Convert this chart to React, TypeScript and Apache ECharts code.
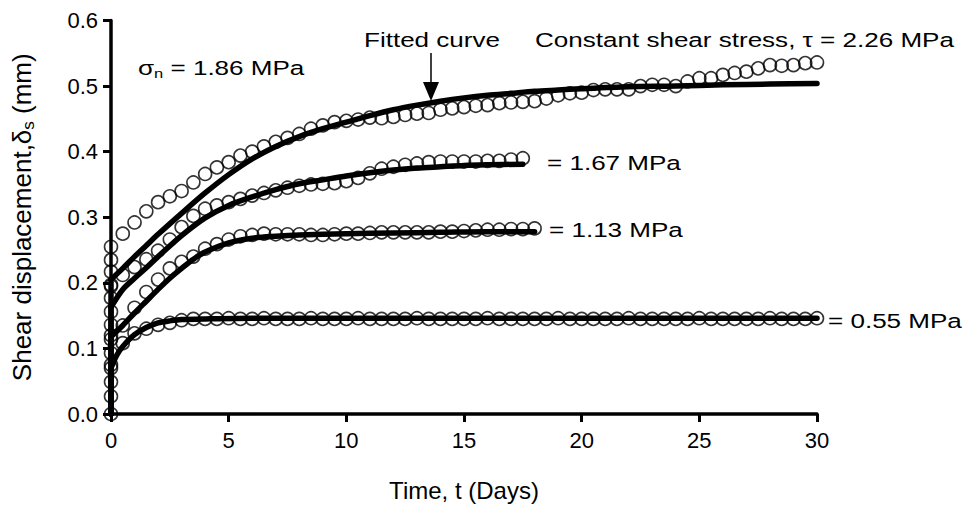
import React, { useEffect, useRef } from "react";
import * as echarts from "echarts";

const FONT = '"Liberation Sans", Arial, Helvetica, sans-serif';

// Sampling times (days) of the measured points
const T_30 = [0, 0.5, 1, 1.5, 2, 2.5, 3, 3.5, 4, 4.5, 5, 5.5, 6, 6.5, 7, 7.5, 8, 8.5, 9, 9.5, 10, 10.5, 11, 11.5, 12, 12.5, 13, 13.5, 14, 14.5, 15, 15.5, 16, 16.5, 17, 17.5, 18, 18.5, 19, 19.5, 20, 20.5, 21, 21.5, 22, 22.5, 23, 23.5, 24, 24.5, 25, 25.5, 26, 26.5, 27, 27.5, 28, 28.5, 29, 29.5, 30];
const T_18 = [0, 0.5, 1, 1.5, 2, 2.5, 3, 3.5, 4, 4.5, 5, 5.5, 6, 6.5, 7, 7.5, 8, 8.5, 9, 9.5, 10, 10.5, 11, 11.5, 12, 12.5, 13, 13.5, 14, 14.5, 15, 15.5, 16, 16.5, 17, 17.5, 18];
const T_175 = [0, 0.5, 1, 1.5, 2, 2.5, 3, 3.5, 4, 4.5, 5, 5.5, 6, 6.5, 7, 7.5, 8, 8.5, 9, 9.5, 10, 10.5, 11, 11.5, 12, 12.5, 13, 13.5, 14, 14.5, 15, 15.5, 16, 16.5, 17, 17.5];

// Measured shear displacement (mm)
const V_226 = [0.255, 0.275, 0.292, 0.309, 0.323, 0.332, 0.34, 0.353, 0.366, 0.376, 0.384, 0.394, 0.4, 0.408, 0.415, 0.421, 0.427, 0.435, 0.44, 0.445, 0.447, 0.449, 0.452, 0.451, 0.453, 0.456, 0.458, 0.459, 0.464, 0.466, 0.468, 0.47, 0.471, 0.474, 0.475, 0.476, 0.477, 0.481, 0.486, 0.489, 0.49, 0.494, 0.495, 0.495, 0.495, 0.5, 0.502, 0.502, 0.5, 0.507, 0.512, 0.512, 0.517, 0.52, 0.522, 0.527, 0.532, 0.531, 0.532, 0.535, 0.536];
const V_167 = [0.195, 0.212, 0.224, 0.236, 0.249, 0.266, 0.285, 0.302, 0.313, 0.318, 0.323, 0.328, 0.333, 0.337, 0.341, 0.345, 0.348, 0.35, 0.351, 0.352, 0.355, 0.36, 0.367, 0.374, 0.377, 0.38, 0.382, 0.384, 0.385, 0.385, 0.385, 0.385, 0.386, 0.386, 0.388, 0.39];
const V_113 = [0.12, 0.135, 0.162, 0.186, 0.205, 0.222, 0.232, 0.24, 0.252, 0.259, 0.266, 0.271, 0.273, 0.275, 0.274, 0.274, 0.274, 0.273, 0.273, 0.274, 0.275, 0.275, 0.276, 0.277, 0.277, 0.277, 0.277, 0.277, 0.278, 0.278, 0.279, 0.28, 0.281, 0.281, 0.282, 0.282, 0.283];
const V_055 = [0.075, 0.108, 0.123, 0.13, 0.136, 0.139, 0.143, 0.145, 0.145, 0.145, 0.146, 0.145, 0.145, 0.146, 0.145, 0.145, 0.145, 0.146, 0.145, 0.145, 0.145, 0.146, 0.145, 0.145, 0.145, 0.145, 0.146, 0.145, 0.145, 0.145, 0.145, 0.145, 0.146, 0.145, 0.145, 0.145, 0.145, 0.145, 0.146, 0.145, 0.145, 0.145, 0.145, 0.145, 0.146, 0.145, 0.145, 0.145, 0.145, 0.145, 0.146, 0.145, 0.145, 0.145, 0.145, 0.145, 0.146, 0.145, 0.145, 0.145, 0.146];

// Instantaneous loading points at t = 0
const LOAD_V = [0, 0.027, 0.049, 0.07, 0.093, 0.114, 0.136, 0.156, 0.177, 0.197, 0.217, 0.235];

// Fitted curves: instantaneous jump at t = 0, then the creep curve
const JUMP_226 = [0, 0.205];
const JUMP_167 = [0, 0.163];
const JUMP_113 = [0, 0.118];
const JUMP_055 = [0, 0.07];
const FIT_T_226 = [0, 0.5, 1, 1.5, 2, 3, 4, 5, 6, 7, 8, 9, 10, 11, 12, 13, 14, 15, 16, 17, 18, 19, 20, 22, 24, 26, 28, 30];
const FIT_V_226 = [0.205, 0.222, 0.24, 0.257, 0.274, 0.306, 0.337, 0.365, 0.389, 0.408, 0.423, 0.435, 0.445, 0.455, 0.464, 0.471, 0.477, 0.482, 0.486, 0.489, 0.492, 0.494, 0.496, 0.499, 0.5, 0.502, 0.503, 0.504];
const FIT_T_167 = [0, 0.5, 1, 1.5, 2, 3, 4, 5, 6, 7, 8, 9, 10, 11, 12, 13, 14, 15, 16, 17.5];
const FIT_V_167 = [0.163, 0.19, 0.207, 0.223, 0.24, 0.272, 0.299, 0.318, 0.331, 0.342, 0.351, 0.357, 0.363, 0.368, 0.372, 0.375, 0.377, 0.379, 0.38, 0.381];
const FIT_T_113 = [0, 0.5, 1, 1.5, 2, 2.5, 3, 3.5, 4, 5, 6, 7, 8, 10, 12, 14, 16, 18];
const FIT_V_113 = [0.118, 0.135, 0.154, 0.172, 0.19, 0.207, 0.222, 0.236, 0.247, 0.261, 0.268, 0.271, 0.273, 0.275, 0.276, 0.277, 0.278, 0.278];
const FIT_T_055 = [0, 0.25, 0.5, 1, 1.5, 2, 2.5, 3, 4, 6, 10, 15, 20, 25, 30];
const FIT_V_055 = [0.07, 0.09, 0.103, 0.121, 0.132, 0.139, 0.142, 0.144, 0.145, 0.146, 0.146, 0.146, 0.146, 0.146, 0.146];

const X_TICKS = { min: 0, max: 30, interval: 5 };
const Y_TICKS = { min: 0, max: 0.6, interval: 0.1 };

const pairs = (t: number[], v: number[]) => t.map((x, i) => [x, v[i]]);

const scatter = (name: string, data: number[][]) => ({
  name,
  type: "scatter",
  data,
  symbol: "circle",
  symbolSize: 13,
  clip: false,
  z: 2,
  itemStyle: { color: "rgba(0,0,0,0)", borderColor: "#000", borderWidth: 1.6 },
});

const fit = (name: string, data: number[][], smooth: number) => ({
  name,
  type: "line",
  data,
  showSymbol: false,
  symbol: "none",
  clip: false,
  smooth,
  z: 3,
  lineStyle: { color: "#000", width: 5.5, cap: "round", join: "round" },
});

const annot = (x: number, y: number, text: string, rich?: any) => ({
  type: "text",
  x,
  y,
  scaleX: 1.27,
  z: 10,
  style: {
    text,
    fill: "#000",
    fontSize: 20.5,
    fontFamily: FONT,
    verticalAlign: "middle",
    align: "left",
    rich,
  },
});

const subRich = {
  m: { fontSize: 20.5, fontFamily: FONT, fill: "#000", lineHeight: 24, verticalAlign: "middle" },
  s: { fontSize: 13, fontFamily: FONT, fill: "#000", lineHeight: 13, verticalAlign: "bottom" },
};

export default function App() {
  const ref = useRef<HTMLDivElement>(null);
  useEffect(() => {
    if (!ref.current) return;
    const chart = echarts.init(ref.current, undefined, { renderer: "svg" });
    chart.setOption({
      animation: false,
      backgroundColor: "#fff",
      grid: { left: 111, right: 154, top: 20.5, bottom: 95 },
      xAxis: {
        type: "value",
        ...X_TICKS,
        axisLine: { onZero: false, lineStyle: { color: "#000", width: 3.5 } },
        axisTick: { show: true, inside: false, length: 8, lineStyle: { color: "#000", width: 3 } },
        axisLabel: { fontFamily: FONT, fontSize: 22, color: "#000", margin: 15 },
        splitLine: { show: false },
        name: "Time, t (Days)",
        nameLocation: "middle",
        nameGap: 64,
        nameTextStyle: { fontFamily: FONT, fontSize: 24, color: "#000" },
      },
      yAxis: {
        type: "value",
        ...Y_TICKS,
        axisLine: { onZero: false, lineStyle: { color: "#000", width: 3.5 } },
        axisTick: { show: true, inside: false, length: 8, lineStyle: { color: "#000", width: 3 } },
        axisLabel: {
          fontFamily: FONT,
          fontSize: 22,
          color: "#000",
          margin: 13,
          formatter: (v: number) => v.toFixed(1),
        },
        splitLine: { show: false },
        name: "{a|Shear displacement,δ}{s|s}{a| (mm)}",
        nameLocation: "middle",
        nameRotate: 90,
        nameGap: 74,
        nameTextStyle: {
          color: "#000",
          rich: {
            a: { fontSize: 26, fontFamily: FONT, color: "#000", lineHeight: 30, verticalAlign: "middle" },
            s: { fontSize: 17, fontFamily: FONT, color: "#000", lineHeight: 17, verticalAlign: "bottom" },
          },
        },
      },
      series: [
        scatter("loading", LOAD_V.map((v) => [0, v])),
        scatter("0.55 MPa", pairs(T_30, V_055)),
        scatter("1.13 MPa", pairs(T_18, V_113)),
        scatter("1.67 MPa", pairs(T_175, V_167)),
        scatter("2.26 MPa", pairs(T_30, V_226)),
        fit("jump 0.55", JUMP_055.map((v) => [0, v]), 0),
        fit("jump 1.13", JUMP_113.map((v) => [0, v]), 0),
        fit("jump 1.67", JUMP_167.map((v) => [0, v]), 0),
        fit("jump 2.26", JUMP_226.map((v) => [0, v]), 0),
        fit("fit 0.55", pairs(FIT_T_055, FIT_V_055), 0.3),
        fit("fit 1.13", pairs(FIT_T_113, FIT_V_113), 0.3),
        fit("fit 1.67", pairs(FIT_T_167, FIT_V_167), 0.3),
        fit("fit 2.26", pairs(FIT_T_226, FIT_V_226), 0.3),
      ],
      graphic: [
        annot(138, 68, "{m|σ}{s|n}{m| = 1.86 MPa}", subRich),
        annot(364, 40, "Fitted curve"),
        annot(535, 40, "Constant shear stress, τ = 2.26 MPa"),
        annot(547, 163, "= 1.67 MPa"),
        annot(549, 230, "= 1.13 MPa"),
        annot(828, 321, "= 0.55 MPa"),
        {
          type: "line",
          z: 10,
          shape: { x1: 431, y1: 53, x2: 431, y2: 84 },
          style: { stroke: "#000", lineWidth: 1.5 },
        },
        {
          type: "polygon",
          z: 10,
          shape: { points: [[423, 82], [439, 82], [431, 101]] },
          style: { fill: "#000" },
        },
      ],
    });
    return () => chart.dispose();
  }, []);
  return <div ref={ref} style={{ position: "fixed", left: 0, top: 0, width: 971, height: 509 }} />;
}
